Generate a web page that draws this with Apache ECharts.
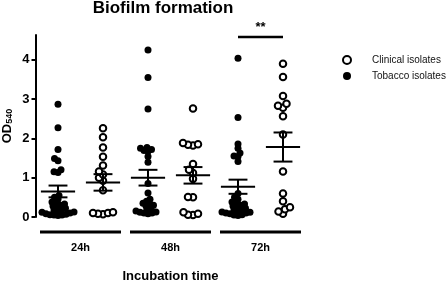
<!DOCTYPE html>
<html>
<head>
<meta charset="utf-8">
<script src="https://cdn.jsdelivr.net/npm/echarts@6/dist/echarts.min.js"></script>
<style>
  html, body { margin: 0; padding: 0; background: #fff; }
  #chart { width: 446px; height: 281px; }
</style>
</head>
<body>
<div id="chart"></div>
<script>
// ---- data ----
const timeLabels = ['24h', '48h', '72h'];
const yTicks = [0, 1, 2, 3, 4];

const tobacco24 = [2.87, 2.27, 1.72, 1.49, 1.43, 1.2, 1.15, 1.13, 0.55, 0.5, 0.45, 0.38, 0.35, 0.33,
  0.3, 0.28, 0.25, 0.22, 0.2, 0.18, 0.15, 0.13, 0.12, 0.1, 0.08, 0.07, 0.06, 0.05, 0.05, 0.04];
const clinical24 = [2.26, 2.03, 1.77, 1.53, 1.31, 1.16, 1.08, 1.0, 0.92, 0.68, 0.12, 0.1, 0.1, 0.08, 0.07];
const tobacco48 = [4.25, 3.55, 2.75, 1.77, 1.75, 1.72, 1.69, 1.67, 1.54, 1.39, 0.85, 0.61, 0.45, 0.4,
  0.35, 0.33, 0.3, 0.28, 0.22, 0.18, 0.15, 0.13, 0.12, 0.1, 0.1, 0.08];
const clinical48 = [2.76, 1.88, 1.85, 1.84, 1.82, 1.35, 1.2, 1.12, 0.97, 0.51, 0.5, 0.12, 0.08, 0.06, 0.05];
const tobacco72 = [4.04, 2.53, 1.86, 1.75, 1.63, 1.55, 1.54, 1.41, 0.6, 0.5, 0.45, 0.38, 0.35, 0.33,
  0.3, 0.28, 0.25, 0.22, 0.2, 0.18, 0.15, 0.13, 0.12, 0.1, 0.1, 0.08, 0.06, 0.05, 0.04];
const clinical72 = [3.9, 3.56, 3.08, 2.88, 2.83, 2.78, 2.56, 2.1, 1.16, 0.6, 0.4, 0.25, 0.2, 0.14, 0.08];

// mean and SEM of each column (24h tob, 24h cli, 48h tob, 48h cli, 72h tob, 72h cli)
const means = [0.65, 0.88, 1.0, 1.06, 0.77, 1.78];
const sems = [0.15, 0.21, 0.2, 0.21, 0.18, 0.37];

// significance: columns 5 and 6, "**"
const sigPair = [5, 6];
const sigLevel = 4.58;
const sigText = '**';

// ---- layout ----
const FONT = '"Liberation Sans", Arial, sans-serif';
const gridLeft = 35.5, gridWidth = 270, gridTop = 35, gridHeight = 182;
const xMin = 0.5, xMax = 6.5, yMax = 4.63;
const pxPerX = gridWidth / (xMax - xMin);
const pxPerY = gridHeight / yMax;

// simple beeswarm, so close values sit side by side
const swarm = (values, center, diam) => {
  const placed = [];
  const order = values.map((v, i) => i).sort((a, b) => values[a] - values[b]);
  const out = [];
  for (const i of order) {
    const py = values[i] * pxPerY;
    let dx = 0;
    for (let k = 0; k < 400; k++) {
      const cand = (k % 2 === 0 ? 1 : -1) * Math.ceil(k / 2) * 0.5;
      const hit = placed.some(p => (cand - p[0]) ** 2 + (py - p[1]) ** 2 < diam * diam);
      if (!hit) { dx = cand; break; }
    }
    placed.push([dx, py]);
    out.push([center + dx / pxPerX, values[i]]);
  }
  return out;
};

const tobaccoPts = [].concat(
  swarm(tobacco24, 1, 4), swarm(tobacco48, 3, 4), swarm(tobacco72, 5, 4));
const clinicalPts = [].concat(
  swarm(clinical24, 2, 5), swarm(clinical48, 4, 5), swarm(clinical72, 6, 5));

const meanData = means.map((m, i) => [i + 1, m, sems[i]]);
const groupBarData = timeLabels.map((t, i) => [2 * i + 1.5]);

const myChart = echarts.init(document.getElementById('chart'));

const option = {
  animation: false,
  backgroundColor: '#fff',
  title: {
    text: 'Biofilm formation',
    left: 163,
    textAlign: 'center',
    top: 0,
    padding: 0,
    textStyle: { fontFamily: FONT, fontSize: 17, fontWeight: 'bold', color: '#000' },
  },
  legend: {
    data: ['Clinical isolates', 'Tobacco isolates'],
    orient: 'vertical',
    left: 337,
    top: 50,
    itemWidth: 40,
    itemHeight: 8,
    itemGap: 6,
    textStyle: { fontFamily: FONT, fontSize: 10, color: '#111' },
  },
  grid: {
    left: gridLeft,
    top: gridTop,
    width: gridWidth,
    height: gridHeight,
    containLabel: false,
    outerBoundsMode: 'none',
  },
  xAxis: [
    {
      type: 'value',
      min: xMin,
      max: xMax,
      show: false,
    },
    {
      type: 'category',
      data: timeLabels,
      position: 'bottom',
      axisLine: { show: false },
      axisTick: { show: false },
      splitLine: { show: false },
      axisLabel: {
        margin: 25,
        fontFamily: FONT, fontSize: 11, fontWeight: 'bold', color: '#000',
      },
      name: 'Incubation time',
      nameLocation: 'middle',
      nameGap: 53,
      nameTextStyle: { fontFamily: FONT, fontSize: 13, fontWeight: 'bold', color: '#000' },
    },
  ],
  yAxis: {
    type: 'value',
    min: 0,
    max: yMax,
    interval: 1,
    splitLine: { show: false },
    axisLine: { show: true, lineStyle: { color: '#000', width: 2 } },
    axisTick: {
      show: true, length: 4, lineStyle: { color: '#000', width: 2 },
      customValues: yTicks,
    },
    axisLabel: {
      margin: 6,
      customValues: yTicks,
      fontFamily: FONT, fontSize: 13, fontWeight: 'bold', color: '#000',
    },
    name: 'OD{sub|540}',
    nameLocation: 'middle',
    nameGap: 21,
    nameMoveOverlap: false,
    nameRotate: 90,
    nameTextStyle: {
      fontFamily: FONT, fontSize: 13, fontWeight: 'bold', color: '#000',
      rich: {
        sub: { fontFamily: FONT, fontSize: 9, fontWeight: 'bold', color: '#000', padding: [6, 0, 0, 0] },
      },
    },
  },
  series: [
    {
      name: 'Clinical isolates',
      type: 'scatter',
      xAxisIndex: 0,
      symbol: 'circle',
      symbolSize: 6.5,
      itemStyle: { color: '#fff', borderColor: '#000', borderWidth: 2, opacity: 1 },
      data: clinicalPts,
      z: 3,
    },
    {
      name: 'Tobacco isolates',
      type: 'scatter',
      xAxisIndex: 0,
      symbol: 'circle',
      symbolSize: 7,
      itemStyle: { color: '#000', opacity: 1 },
      data: tobaccoPts,
      z: 3,
    },
    {
      // mean +/- SEM
      type: 'custom',
      xAxisIndex: 0,
      clip: false,
      z: 5,
      renderItem: (params, api) => {
        const x = api.value(0);
        const m = api.value(1);
        const s = api.value(2);
        const c = api.coord([x, m]);
        const hi = api.coord([x, m + s]);
        const lo = api.coord([x, m - s]);
        const w = api.size([0.38, 0])[0];
        const cw = api.size([0.21, 0])[0];
        const st = { stroke: '#000', lineWidth: 2 };
        return {
          type: 'group',
          children: [
            { type: 'line', shape: { x1: c[0] - w, y1: c[1], x2: c[0] + w, y2: c[1] }, style: st },
            { type: 'line', shape: { x1: c[0], y1: hi[1], x2: c[0], y2: lo[1] }, style: st },
            { type: 'line', shape: { x1: c[0] - cw, y1: hi[1], x2: c[0] + cw, y2: hi[1] }, style: st },
            { type: 'line', shape: { x1: c[0] - cw, y1: lo[1], x2: c[0] + cw, y2: lo[1] }, style: st },
          ],
        };
      },
      data: meanData,
    },
    {
      // group bars under each time point
      type: 'custom',
      xAxisIndex: 0,
      clip: false,
      renderItem: (params, api) => {
        const x = api.value(0);
        const a = api.coord([x - 0.9, 0]);
        const b = api.coord([x + 0.9, 0]);
        return {
          type: 'line',
          shape: { x1: a[0], y1: a[1] + 15, x2: b[0], y2: b[1] + 15 },
          style: { stroke: '#000', lineWidth: 3 },
        };
      },
      data: groupBarData,
    },
    {
      // significance bar
      type: 'custom',
      xAxisIndex: 0,
      clip: false,
      renderItem: (params, api) => {
        const a = api.coord([api.value(0), api.value(2)]);
        const b = api.coord([api.value(1), api.value(2)]);
        return {
          type: 'group',
          children: [
            { type: 'line', shape: { x1: a[0], y1: a[1], x2: b[0], y2: b[1] },
              style: { stroke: '#000', lineWidth: 2.5 } },
            { type: 'text', x: (a[0] + b[0]) / 2, y: a[1] - 3,
              style: { text: sigText, align: 'center', verticalAlign: 'bottom',
                font: 'bold 13px ' + FONT, fill: '#000' } },
          ],
        };
      },
      data: [[sigPair[0], sigPair[1], sigLevel]],
    },
  ],
};
myChart.setOption(option);
</script>
</body>
</html>
